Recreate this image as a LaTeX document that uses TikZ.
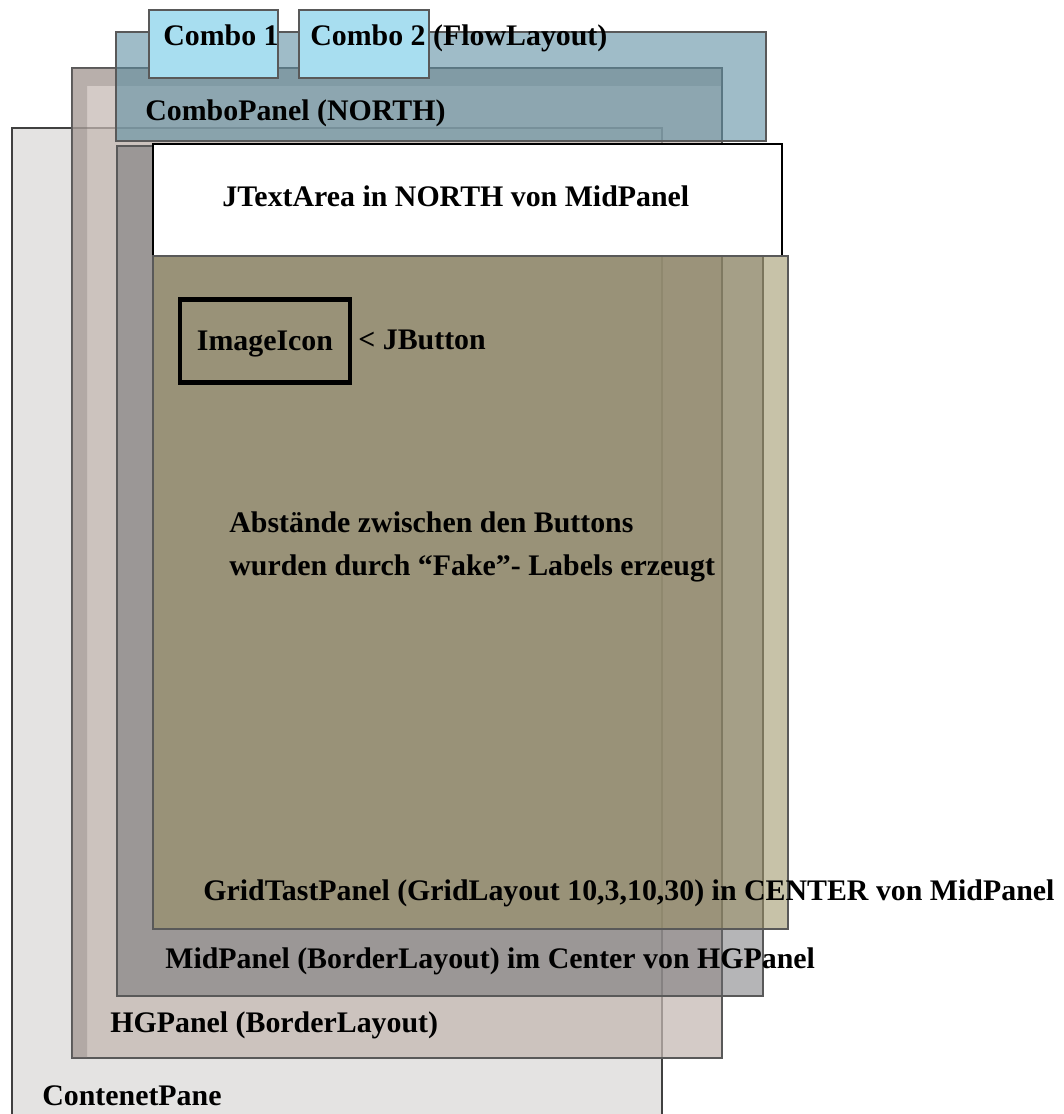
\documentclass[tikz,border=0pt]{standalone}
\usepackage{fontspec}
\setmainfont{Liberation Serif}

\definecolor{contentgray}{RGB}{228,227,226}
\definecolor{hgcol}{RGB}{196,184,178}
\definecolor{hgshade}{RGB}{120,112,110}
\definecolor{midcol}{RGB}{107,108,112}
\definecolor{combocol}{RGB}{90,140,160}
\definecolor{gridcol}{RGB}{152,142,95}
\definecolor{boxcyan}{RGB}{168,222,240}

\begin{document}
\begin{tikzpicture}[x=0.02cm,y=-0.02cm,
   panel/.style={draw=black!65,line width=0.6pt},
   combobox/.style={draw=black!65,line width=0.6pt,fill=boxcyan},
   lbl/.style={font=\bfseries\fontsize{17}{20}\selectfont,inner sep=0pt,anchor=base west}]

\useasboundingbox (0,0) rectangle (1063,1114);

% ContentPane
\filldraw[panel,draw=black!75,fill=contentgray] (12,1116) |- (662,128) -- (662,1116);

% HGPanel
\filldraw[panel,fill=hgcol,fill opacity=0.73] (72,68) rectangle (722,1058);
\fill[hgshade,opacity=0.3] (72,1058) -- (72,68) -- (722,68) -- (722,86) -- (87,86) -- (87,1058) -- cycle;

% MidPanel
\filldraw[panel,fill=midcol,fill opacity=0.5] (117,146) rectangle (763,996);

% ComboPanel
\filldraw[panel,fill=combocol,fill opacity=0.58] (116,32) rectangle (766,141);

% JTextArea
\filldraw[draw=black,line width=1.2pt,fill=white] (153,144) rectangle (782,256);

% GridTastPanel
\filldraw[panel,fill=gridcol,fill opacity=0.54] (153,256) rectangle (788,929);

% combo boxes
\filldraw[combobox] (149,10) rectangle (278,78);
\filldraw[combobox] (299,10) rectangle (429,78);

% labels
\node[lbl] (combo1) at (163,46) {Combo 1};
\node[lbl] (combo2) at (310,46) {Combo 2 (FlowLayout)};
\node[lbl] (combopanel) at (145,121) {ComboPanel (NORTH)};
\node[lbl] (textarea) at (222,207) {JTextArea in NORTH von MidPanel};

\node[draw,line width=2.6pt,minimum width=3.4cm,minimum height=1.66cm,text depth=0pt,
      font=\bfseries\fontsize{17}{20}\selectfont] (icon) at (265,341) {ImageIcon};
\node[lbl] (jbutton) at (358,350) {< JButton};

\node[lbl] (gap1) at (229,532) {Abstände zwischen den Buttons};
\node[lbl] (gap2) at (229,575) {wurden durch “Fake”- Labels erzeugt};

\node[lbl] (gridpanel) at (203,900) {GridTastPanel (GridLayout 10,3,10,30) in CENTER von MidPanel};
\node[lbl] (midpanel) at (165,968) {MidPanel (BorderLayout) im Center von HGPanel};
\node[lbl] (hgpanel) at (110,1032) {HGPanel (BorderLayout)};
\node[lbl] (contentpane) at (42,1105) {ContenetPane};

\end{tikzpicture}
\end{document}
